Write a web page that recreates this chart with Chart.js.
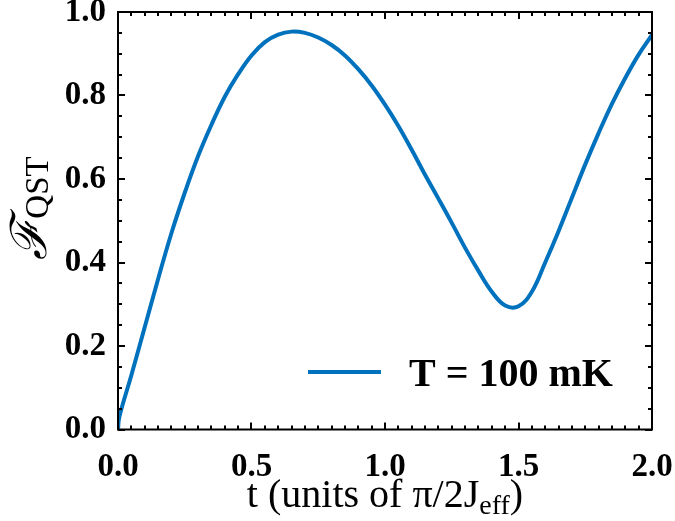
<!DOCTYPE html>
<html>
<head>
<meta charset="utf-8">
<script src="https://cdn.jsdelivr.net/npm/chart.js@4"></script>
<style>
html,body{margin:0;padding:0;background:#fff;}
#wrap{width:675px;height:521px;position:relative;}
</style>
</head>
<body>
<div id="wrap"><canvas id="c" width="675" height="521"></canvas></div>
<script>
// ---- data ----
const tValues = [0, 0.005, 0.05, 0.1, 0.15, 0.2, 0.25, 0.3, 0.35, 0.4, 0.45, 0.5, 0.55, 0.6, 0.65, 0.7, 0.75, 0.8, 0.85, 0.9, 0.95, 1.0, 1.05, 1.1, 1.15, 1.2, 1.25, 1.3, 1.35, 1.4, 1.45, 1.5, 1.55, 1.6, 1.65, 1.7, 1.75, 1.8, 1.85, 1.9, 1.95, 2.0];
const fidelity = [0, 0.03, 0.13, 0.245, 0.36, 0.47, 0.567, 0.655, 0.73, 0.797, 0.851, 0.896, 0.928, 0.946, 0.953, 0.950, 0.939, 0.921, 0.896, 0.863, 0.824, 0.778, 0.727, 0.67, 0.61, 0.553, 0.495, 0.435, 0.38, 0.33, 0.297, 0.295, 0.33, 0.40, 0.475, 0.555, 0.635, 0.71, 0.78, 0.842, 0.898, 0.945];
const seriesLabel = 'T = 100 mK';
const xTickStep = 0.5, xMinorStep = 0.05;
const yTickStep = 0.2, yMinorStep = 0.05;
const xTitleMain = 't (units of π/2J', xTitleSub = 'eff', xTitleEnd = ')';
const yTitleMain = 'ℱ', yTitleSub = 'QST';

const BLUE = '#0072BD';
const SERIF = '"Liberation Serif", "DejaVu Serif", serif';

const framePlugin = {
  id: 'frame',
  afterDatasetsDraw(chart) {
    const {ctx, chartArea: a, scales: {x, y}} = chart;
    ctx.save();
    ctx.strokeStyle = '#000';
    ctx.lineWidth = 2;
    ctx.strokeRect(a.left, a.top, a.right - a.left, a.bottom - a.top);
    for (let v = x.min; v <= x.max + 1e-9; v += xMinorStep) {
      const major = Math.abs(v / xTickStep - Math.round(v / xTickStep)) < 1e-6;
      const len = major ? 7 : 4;
      const px = Math.round(x.getPixelForValue(v));
      ctx.beginPath();
      ctx.moveTo(px, a.bottom); ctx.lineTo(px, a.bottom - len);
      ctx.moveTo(px, a.top); ctx.lineTo(px, a.top + len);
      ctx.stroke();
    }
    for (let v = y.min; v <= y.max + 1e-9; v += yMinorStep) {
      const major = Math.abs(v / yTickStep - Math.round(v / yTickStep)) < 1e-6;
      const len = major ? 7 : 4;
      const py = Math.round(y.getPixelForValue(v));
      ctx.beginPath();
      ctx.moveTo(a.left, py); ctx.lineTo(a.left + len, py);
      ctx.moveTo(a.right, py); ctx.lineTo(a.right - len, py);
      ctx.stroke();
    }
    // legend
    const ds = chart.data.datasets[0];
    ctx.strokeStyle = ds.borderColor;
    ctx.lineWidth = 4;
    ctx.beginPath();
    ctx.moveTo(308, 372); ctx.lineTo(381, 372);
    ctx.stroke();
    ctx.fillStyle = '#000';
    ctx.font = 'bold 40px ' + SERIF;
    ctx.textBaseline = 'alphabetic';
    ctx.textAlign = 'left';
    ctx.fillText(ds.label, 409, 386);

    // x title
    const mainF = '40px ' + SERIF, subF = '28px ' + SERIF;
    ctx.font = mainF;
    const w1 = ctx.measureText(xTitleMain).width;
    const w3 = ctx.measureText(xTitleEnd).width;
    ctx.font = subF;
    const w2 = ctx.measureText(xTitleSub).width;
    const sx = (a.left + a.right) / 2 - (w1 + w2 + w3) / 2;
    const by = 507;
    ctx.font = mainF;
    ctx.fillText(xTitleMain, sx, by);
    ctx.font = subF;
    ctx.fillText(xTitleSub, sx + w1, by + 7);
    ctx.font = mainF;
    ctx.fillText(xTitleEnd, sx + w1 + w2, by);

    // y title (rotated)
    ctx.translate(46, 208);
    ctx.rotate(-Math.PI / 2);
    const fF = 'italic 50px "DejaVu Serif", serif', qF = '33px ' + SERIF;
    ctx.font = fF;
    const f1 = ctx.measureText(yTitleMain).width;
    ctx.font = qF;
    const f2 = ctx.measureText(yTitleSub).width;
    const s0 = -(f1 + f2) / 2;
    ctx.font = fF;
    ctx.fillText(yTitleMain, s0, 0);
    ctx.font = qF;
    ctx.fillText(yTitleSub, s0 + f1, 2);
    ctx.restore();
  }
};

new Chart(document.getElementById('c'), {
  type: 'line',
  data: {
    datasets: [{
      label: seriesLabel,
      data: tValues.map((t, i) => ({x: t, y: fidelity[i]})),
      borderColor: BLUE,
      borderWidth: 4,
      pointRadius: 0,
      fill: false,
      tension: 0.4
    }]
  },
  options: {
    responsive: false,
    animation: false,
    layout: {padding: {top: 12, right: 23, left: 0, bottom: 0}},
    plugins: {legend: {display: false}, tooltip: {enabled: false}},
    scales: {
      x: {
        type: 'linear', min: 0, max: 2,
        grid: {display: false, drawTicks: false},
        border: {display: false},
        ticks: {stepSize: xTickStep, padding: 18, color: '#000',
          font: {family: SERIF, size: 33, weight: 'bold'},
          callback: v => v.toFixed(1), maxRotation: 0},
        afterFit: s => { s.height = 91.5; s.paddingLeft = 0; s.paddingRight = 0; }
      },
      y: {
        min: 0, max: 1,
        grid: {display: false, drawTicks: false},
        border: {display: false},
        ticks: {stepSize: yTickStep, padding: 12, color: '#000',
          font: {family: SERIF, size: 33, weight: 'bold'},
          callback: v => v.toFixed(1)},
        afterFit: s => { s.width = 118; s.paddingTop = 0; s.paddingBottom = 0; }
      }
    }
  },
  plugins: [framePlugin]
});
</script>
</body>
</html>
